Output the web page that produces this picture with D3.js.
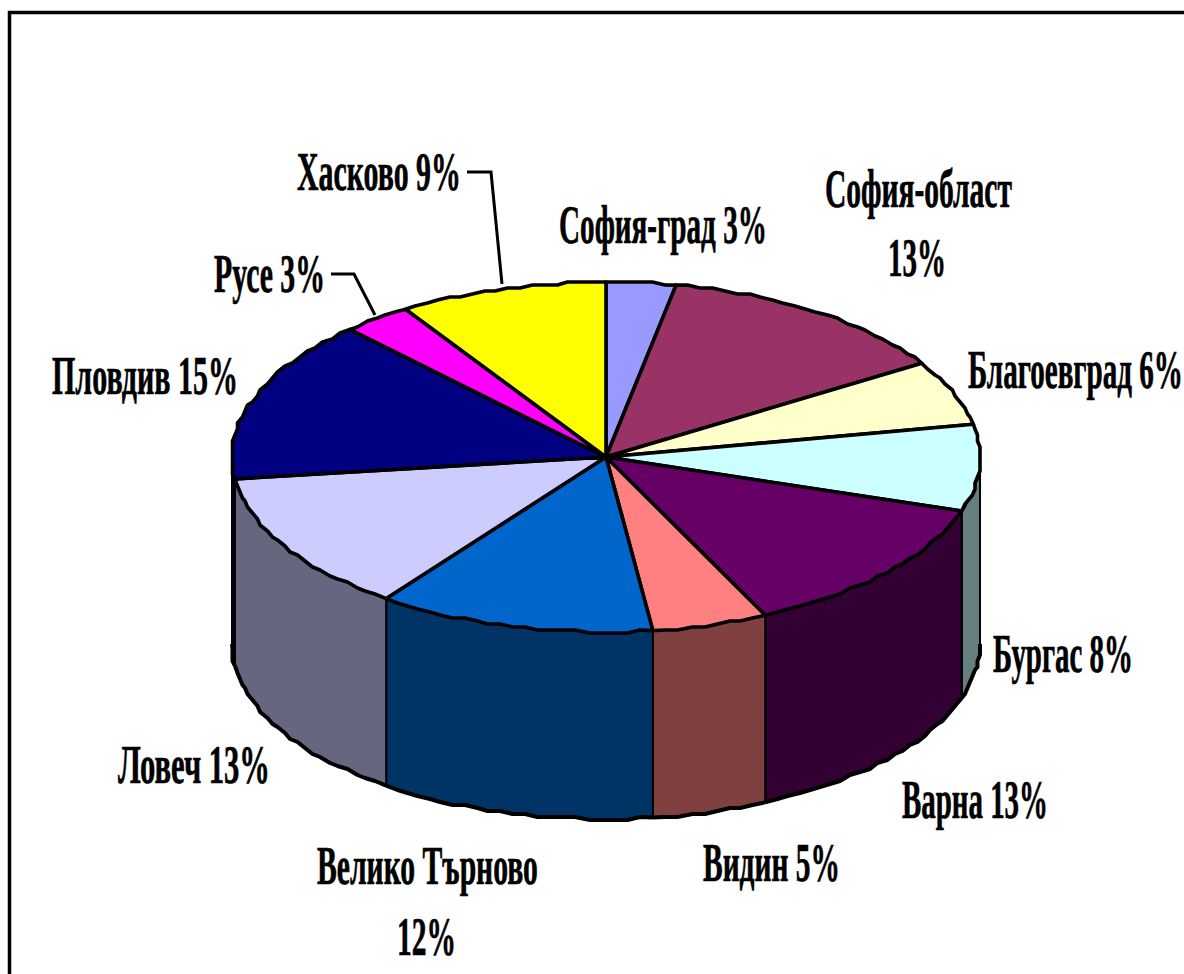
<!DOCTYPE html>
<html>
<head>
<meta charset="utf-8">
<script src="https://cdn.jsdelivr.net/npm/d3@7"></script>
<style>
  html, body { margin: 0; padding: 0; background: #fff; overflow: hidden; }
  text { font-family: "Liberation Serif", serif; font-weight: bold; fill: #000; stroke: #000; stroke-width: 0.7; }
</style>
</head>
<body>
<figure id="pie3d" style="margin:0"></figure>
<script>
const regions = ['София-град', 'София-област', 'Благоевград', 'Бургас', 'Варна', 'Видин',
  'Велико Търново', 'Ловеч', 'Пловдив', 'Русе', 'Хасково'];
const shares = [3, 13, 6, 8, 13, 5, 12, 13, 15, 3, 9];
const topColors = ['#9999ff', '#993366', '#ffffcc', '#ccffff', '#660066', '#ff8080',
  '#0066cc', '#ccccff', '#000080', '#ff00ff', '#ffff00'];

// where the labels sit: left edge, right edge, baseline of each text line
const labelLines = [
  { region: 'София-град', lines: [[559, 767, 243, 'all']] },
  { region: 'София-област', lines: [[825, 1012, 207, 'name'], [888, 946, 276, 'pct']] },
  { region: 'Благоевград', lines: [[968, 1183, 388, 'all']] },
  { region: 'Бургас', lines: [[993, 1133, 672, 'all']] },
  { region: 'Варна', lines: [[902, 1048, 818, 'all']] },
  { region: 'Видин', lines: [[703, 840, 881, 'all']] },
  { region: 'Велико Търново', lines: [[317, 538, 884, 'name'], [397, 456, 955, 'pct']] },
  { region: 'Ловеч', lines: [[118, 270, 783, 'all']] },
  { region: 'Пловдив', lines: [[52, 238, 394, 'all']] },
  { region: 'Русе', lines: [[214, 325, 292, 'all']] },
  { region: 'Хасково', lines: [[297, 461, 190, 'all']] }
];
const leaderLines = [
  [[467, 172], [491, 172], [502, 284]],
  [[331, 274], [354, 274], [375, 315]]
];

const width = 1184, height = 974;
const pieParams = { cx: 606, cy: 457, rx: 374, ry: 175, depth: 187, fontSize: 54 };

const svg = d3.select('figure#pie3d').append('svg')
  .attr('width', width).attr('height', height)
  .style('display', 'block');

// frame, runs off the right and bottom of the picture
svg.append('path')
  .attr('d', `M9.5,${height + 5}V12.5H${width + 5}`)
  .attr('fill', 'none').attr('stroke', '#000').attr('stroke-width', 3.5);

const xScale = d3.scaleLinear().domain([-1, 1]).range([pieParams.cx - pieParams.rx, pieParams.cx + pieParams.rx]);
const yScale = d3.scaleLinear().domain([-1, 1]).range([pieParams.cy - pieParams.ry, pieParams.cy + pieParams.ry]);

const arcs = d3.pie().sort(null).value(d => d)(shares);

// the rim of the original is a coarse stepped outline, so snap it to a grid
const snap = (v, grid) => Math.round(v / grid) * grid;
const rimPoint = a => [xScale(Math.sin(a)), yScale(-Math.cos(a))];
const rimPoints = (a0, a1) => {
  const n = Math.max(2, Math.ceil((a1 - a0) / (Math.PI / 90)));
  return d3.range(n + 1).map(i => {
    const p = rimPoint(a0 + (a1 - a0) * i / n);
    return i === 0 || i === n ? p : [snap(p[0], 2.5), snap(p[1], 3)];
  });
};
const line = d3.line();
const halfTone = c => {
  const rgb = d3.rgb(c);
  return d3.rgb(rgb.r / 2, rgb.g / 2, rgb.b / 2);
};

// walls, only the front half of the cylinder shows
const wallGroup = svg.append('g');
arcs.forEach((d, i) => {
  const a0 = Math.max(d.startAngle, Math.PI / 2);
  const a1 = Math.min(d.endAngle, Math.PI * 1.5);
  if (a1 <= a0) return;
  const top = rimPoints(a0, a1);
  const bottom = top.map(p => [p[0], p[1] + pieParams.depth]);
  wallGroup.append('path')
    .attr('d', line(top.concat(bottom.slice().reverse())) + 'Z')
    .attr('fill', halfTone(topColors[i]))
    .attr('stroke', '#000').attr('stroke-width', 2).attr('stroke-linejoin', 'round');
  wallGroup.append('path')
    .attr('d', line(bottom))
    .attr('fill', 'none').attr('stroke', '#000').attr('stroke-width', 4).attr('stroke-linejoin', 'round');
});

// top face
svg.append('g').selectAll('path')
  .data(arcs)
  .enter().append('path')
    .attr('d', d => line([[xScale(0), yScale(0)]].concat(rimPoints(d.startAngle, d.endAngle))) + 'Z')
    .attr('fill', (d, i) => topColors[i])
    .attr('stroke', '#000').attr('stroke-width', 3.6).attr('stroke-linejoin', 'round');

// leaders
svg.append('g').selectAll('path')
  .data(leaderLines)
  .enter().append('path')
    .attr('d', d => line(d))
    .attr('fill', 'none').attr('stroke', '#000').attr('stroke-width', 3);

// labels, squeezed horizontally into the width they have in the picture
const labelText = (region, part) => {
  const pct = shares[regions.indexOf(region)] + '%';
  if (part === 'name') return region;
  if (part === 'pct') return pct;
  return region + ' ' + pct;
};
labelLines.forEach(label => {
  label.lines.forEach(([x0, x1, baseline, part]) => {
    const t = svg.append('text')
      .attr('font-size', pieParams.fontSize)
      .text(labelText(label.region, part));
    const squeeze = (x1 - x0) / t.node().getComputedTextLength();
    t.attr('transform', `translate(${x0},${baseline}) scale(${squeeze},1)`);
  });
});
</script>
</body>
</html>
